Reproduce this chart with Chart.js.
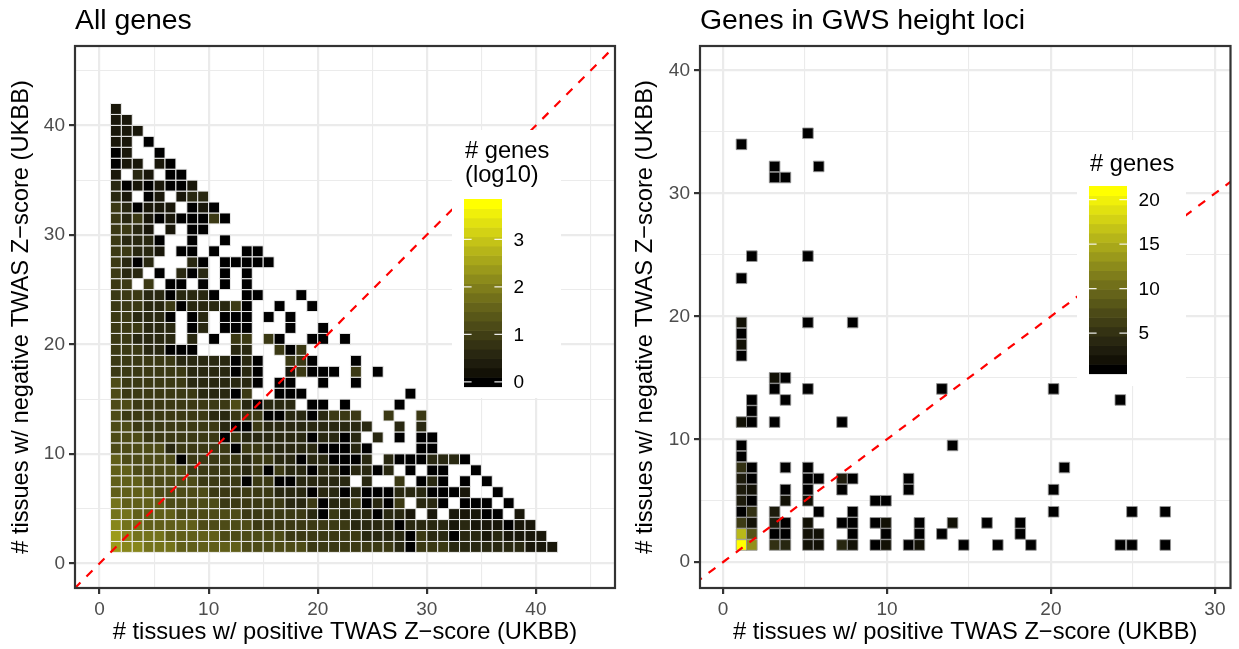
<!DOCTYPE html>
<html>
<head>
<meta charset="utf-8">
<script src="https://cdn.jsdelivr.net/npm/chart.js@4.4.0/dist/chart.umd.min.js"></script>
<style>
  html, body { margin: 0; padding: 0; background: #fff; }
  #wrap { position: relative; width: 1239px; height: 649px; }
  canvas { position: absolute; top: 0; }
</style>
</head>
<body>
<div id="wrap">
  <canvas id="allGenes" width="620" height="649" style="left:0"></canvas>
  <canvas id="gwsGenes" width="619" height="649" style="left:620px"></canvas>
</div>
<script>
const FONT = "'Liberation Sans', Arial, sans-serif";

// ---- left panel: all genes ----
// one string per "# negative tissues" (1..41), one char per "# positive tissues" (1..)
// digit d means log10(# genes) ~ d * 0.3, '.' means no gene in that cell
const negRows = [
  "87766655555544444433333333203332222222111",
  "8766655555444444333333322220322022121111",
  "766555554444433333333322220222212111011",
  "6655554444443333332032220221.1.11100.1",
  "655554444433333322302230203.220.000.0",
  "555544444333333222022020002220001..0",
  "5554444433330330022222.2..3.020.0.0",
  "55444443333323032202202202.0.00..0",
  "544444033333233220220002.20002220",
  "444442333330332222200020....00..",
  "44433333330322222202202.2.0.00.",
  "443333333320032222222222..2.2.",
  "43333333322333002202333..3..3",
  "44333333333420222.00.0....0.",
  "4333333322203..000.........0",
  "43333332222220.00..0..0...",
  "33333332222020..13000.3.0",
  "33333322222020..330...0.",
  "33322000...22..303.....",
  "332222.2.0.33.30..00.0",
  "333222.02.000...0..0.",
  "332220.02.000.0.0...",
  "3332230222230..0..0",
  "3332202220..00...0",
  "33.3.00.0.0.0....",
  "322.0.202.0.0...",
  "3202...20.00000",
  "33221.00.0..00",
  "32220..0..0..",
  "3321.1.00...",
  "32310100030",
  "320111.010",
  "21.01.122",
  "20101001",
  "1.21.00",
  "011.10",
  "01..0",
  "11.0",
  "111",
  "11",
  "1"
];
const log10PerDigit = 0.3;
const allRange = [0, 3.75];
const allBreaks = [0, 1, 2, 3];
const allXTicks = [0, 5, 10, 15, 20, 25, 30, 35, 40, 45];
const allYTicks = [0, 5, 10, 15, 20, 25, 30, 35, 40, 45];

// ---- right panel: genes in GWS height loci ----
const gwsPos = [
  5.18, 1.13, 3.15, 5.84, 3.15, 3.81, 1.76, 5.18, 1.13,
  1.13, 5.18, 7.91, 1.13, 1.13, 1.13, 3.15, 3.81,
  3.15, 5.18, 13.35, 20.16, 1.76, 3.81, 24.23, 1.76,
  1.13, 1.76, 3.15, 7.26, 1.13, 14.0, 1.13,
  1.13, 1.76, 3.81, 5.18, 20.82,
  1.13, 1.76, 5.18, 5.84, 7.26, 7.91, 11.32,
  1.13, 1.76, 3.81, 5.18, 7.26, 11.32, 20.16,
  1.13, 1.76, 3.81, 5.18, 9.29, 9.94,
  1.13, 1.76, 3.15, 5.84, 7.91, 20.16, 24.94, 26.97,
  1.13, 1.76, 3.15, 3.81, 5.18, 7.26, 7.91, 9.29, 9.94, 11.98, 14.0, 16.1, 18.13,
  1.13, 1.76, 3.15, 3.81, 5.18, 5.84, 7.91, 9.94, 11.98, 13.35, 18.13,
  1.13, 1.76, 3.15, 3.81, 5.18, 5.84, 7.26, 7.91, 9.29, 9.94, 11.32, 11.98, 14.68, 16.76, 18.78, 24.23, 24.94, 26.97
];
const gwsNeg = [
  34.9, 34.0, 32.2, 32.2, 31.3, 31.3, 24.9, 24.9, 23.1,
  19.5, 19.5, 19.5, 18.6, 17.7, 16.8, 15.0, 15.0,
  14.1, 14.1, 14.1, 14.1, 13.2, 13.2, 13.2, 12.3,
  11.4, 11.4, 11.4, 11.4, 9.5, 9.5, 8.6,
  7.7, 7.7, 7.7, 7.7, 7.7,
  6.8, 6.8, 6.8, 6.8, 6.8, 6.8, 6.8,
  5.9, 5.9, 5.9, 5.9, 5.9, 5.9, 5.9,
  5.0, 5.0, 5.0, 5.0, 5.0, 5.0,
  4.1, 4.1, 4.1, 4.1, 4.1, 4.1, 4.1, 4.1,
  3.2, 3.2, 3.2, 3.2, 3.2, 3.2, 3.2, 3.2, 3.2, 3.2, 3.2, 3.2, 3.2,
  2.3, 2.3, 2.3, 2.3, 2.3, 2.3, 2.3, 2.3, 2.3, 2.3, 2.3,
  1.4, 1.4, 1.4, 1.4, 1.4, 1.4, 1.4, 1.4, 1.4, 1.4, 1.4, 1.4, 1.4, 1.4, 1.4, 1.4, 1.4, 1.4
];
const gwsGenes = [
  1, 1, 1, 1, 1, 1, 1, 1, 1,
  2, 1, 1, 1, 2, 1, 2, 1,
  1, 1, 1, 1, 1, 1, 1, 1,
  2, 1, 1, 1, 1, 1, 1,
  5, 1, 1, 1, 1,
  3, 1, 1, 1, 3, 1, 1,
  3, 2, 1, 1, 1, 1, 1,
  3, 1, 2, 2, 1, 1,
  1, 5, 3, 1, 1, 1, 1, 1,
  6, 2, 3, 1, 2, 1, 1, 1, 2, 1, 2, 1, 1,
  16, 8, 1, 1, 2, 2, 1, 1, 1, 1, 1,
  21, 13, 5, 4, 2, 2, 4, 2, 1, 2, 1, 2, 1, 1, 1, 1, 1, 1
];
const gwsRange = [1, 21];
const gwsBreaks = [5, 10, 15, 20];
const gwsXTicks = [0, 5, 10, 15, 20, 25, 30];
const gwsYTicks = [0, 5, 10, 15, 20, 25, 30, 35, 40];

const diagonal = [-10, 60];

// black -> yellow ramp, interpolated in CIELAB like ggplot
function labToRgb(L, a, b) {
  let fy = (L + 16) / 116, fx = a / 500 + fy, fz = fy - b / 200;
  const inv = t => (t * t * t > 0.008856 ? t * t * t : (t - 16 / 116) / 7.787);
  const X = 0.95047 * inv(fx), Y = inv(fy), Z = 1.08883 * inv(fz);
  const r = X * 3.2406 - Y * 1.5372 - Z * 0.4986;
  const g = -X * 0.9689 + Y * 1.8758 + Z * 0.0415;
  const bl = X * 0.0557 - Y * 0.2040 + Z * 1.0570;
  const gam = c => {
    c = c > 0.0031308 ? 1.055 * Math.pow(c, 1 / 2.4) - 0.055 : 12.92 * c;
    return Math.round(255 * Math.min(1, Math.max(0, c)));
  };
  return 'rgb(' + gam(r) + ',' + gam(g) + ',' + gam(bl) + ')';
}
function ramp(t) {
  t = Math.min(1, Math.max(0, t));
  return labToRgb(97.14 * t, -21.55 * t, 94.48 * t);
}

const allTiles = [];
negRows.forEach((row, r) => {
  row.split('').forEach((ch, c) => {
    if (ch !== '.') allTiles.push({ x: c + 1.5, y: r + 1.5, v: Number(ch) * log10PerDigit });
  });
});
const gwsPoints = gwsPos.map((x, k) => ({ x: x, y: gwsNeg[k], v: gwsGenes[k] }));

function cellRadius(chart) {
  const s = chart.scales.x;
  return Math.abs(s.getPixelForValue(1) - s.getPixelForValue(0)) * Math.SQRT1_2;
}

function axis(min, max, tickVals, size, title, titlePad, isX) {
  return {
    type: 'linear', min: min, max: max,
    afterBuildTicks: s => { s.ticks = tickVals.map(v => ({ value: v })); },
    afterFit: s => { if (isX) s.height = size; else s.width = size; },
    grid: {
      color: '#ebebeb',
      lineWidth: c => (c.tick && c.tick.value % 10 === 0 ? 2.2 : 1.1),
      tickColor: c => (c.tick && c.tick.value % 10 === 0 ? '#333333' : 'rgba(0,0,0,0)'),
      tickWidth: 2.2,
      tickLength: 6
    },
    border: { display: false },
    ticks: {
      autoSkip: false, maxRotation: 0, padding: 4, color: '#4d4d4d',
      font: { family: FONT, size: 19 },
      callback: v => (v % 10 === 0 ? String(v) : '')
    },
    title: {
      display: true, text: title, color: '#000000',
      font: { family: FONT, size: 23.7 },
      padding: isX ? { top: 0, bottom: titlePad } : { top: titlePad, bottom: 0 }
    }
  };
}

const decor = {
  id: 'decor',
  afterDatasetsDraw(chart, args, opts) {
    const { ctx, chartArea: a } = chart;
    ctx.save();
    ctx.strokeStyle = '#333333';
    ctx.lineWidth = 2.2;
    ctx.strokeRect(a.left, a.top, a.right - a.left, a.bottom - a.top);
    ctx.restore();
  },
  afterDraw(chart, args, opts) {
    const { ctx, chartArea: a } = chart;
    const lg = opts.legend;
    ctx.save();
    ctx.fillStyle = '#000000';
    ctx.font = '28.4px ' + FONT;
    ctx.textBaseline = 'alphabetic';
    ctx.fillText(opts.title, a.left, 29);

    ctx.fillStyle = '#ffffff';
    ctx.fillRect(lg.box[0], lg.box[1], lg.box[2], lg.box[3]);
    ctx.fillStyle = '#000000';
    ctx.font = '23.7px ' + FONT;
    lg.title.forEach((t, k) => ctx.fillText(t, lg.x + 1, lg.titleY + k * 24));

    const nbin = 20, binH = lg.h / nbin, bottom = lg.y + lg.h;
    const lo = lg.range[0], hi = lg.range[1];
    for (let k = 0; k < nbin; k++) {
      ctx.fillStyle = ramp(k / (nbin - 1));
      ctx.fillRect(lg.x, bottom - (k + 1) * binH, lg.w, binH + 0.6);
    }
    ctx.font = '19px ' + FONT;
    ctx.textBaseline = 'middle';
    lg.breaks.forEach(b => {
      const y = bottom - binH / 2 - (b - lo) / (hi - lo) * (lg.h - binH);
      ctx.strokeStyle = 'rgba(255,255,255,0.9)';
      ctx.lineWidth = 1.2;
      ctx.beginPath();
      ctx.moveTo(lg.x, y); ctx.lineTo(lg.x + lg.w / 5, y);
      ctx.moveTo(lg.x + lg.w, y); ctx.lineTo(lg.x + lg.w * 4 / 5, y);
      ctx.stroke();
      ctx.fillStyle = '#000000';
      ctx.fillText(String(b), lg.x + lg.w + 11.6, y + 1);
    });
    ctx.restore();
  }
};

function diagonalSet() {
  return {
    data: diagonal.map(v => ({ x: v, y: v })),
    showLine: true, borderColor: '#ff0000', borderWidth: 2.2, borderDash: [8.5, 8.5],
    pointRadius: 0, clip: 0, order: 1
  };
}

new Chart(document.getElementById('allGenes'), {
  type: 'scatter',
  data: {
    datasets: [
      {
        data: allTiles, pointStyle: 'rect', order: 2,
        pointRadius: c => cellRadius(c.chart), pointHoverRadius: c => cellRadius(c.chart),
        backgroundColor: c => (c.raw ? ramp((c.raw.v - allRange[0]) / (allRange[1] - allRange[0])) : '#000'),
        borderColor: 'rgba(240,240,240,0.95)', borderWidth: 1
      },
      diagonalSet()
    ]
  },
  options: {
    responsive: false, animation: false, devicePixelRatio: 1, events: [],
    layout: { padding: { left: 0, top: 46, right: 5, bottom: 0 } },
    plugins: {
      legend: { display: false }, tooltip: { enabled: false },
      decor: {
        title: 'All genes',
        legend: {
          box: [452, 130, 109, 268], x: 464, y: 199, w: 38, h: 187.5,
          title: ['# genes', '(log10)'], titleY: 158, range: allRange, breaks: allBreaks
        }
      }
    },
    scales: {
      x: axis(-2.25, 47.25, allXTicks, 61, '# tissues w/ positive TWAS Z\u2212score (UKBB)', 2, true),
      y: axis(-2.25, 47.25, allYTicks, 75, '# tissues w/ negative TWAS Z\u2212score (UKBB)', 7, false)
    }
  },
  plugins: [decor]
});

new Chart(document.getElementById('gwsGenes'), {
  type: 'scatter',
  data: {
    datasets: [
      {
        data: gwsPoints, pointStyle: 'rect', order: 2,
        pointRadius: 7.5, pointHoverRadius: 7.5,
        backgroundColor: c => (c.raw ? ramp((c.raw.v - gwsRange[0]) / (gwsRange[1] - gwsRange[0])) : '#000'),
        borderColor: 'rgba(150,150,150,0.85)', borderWidth: 1
      },
      diagonalSet()
    ]
  },
  options: {
    responsive: false, animation: false, devicePixelRatio: 1, events: [],
    layout: { padding: { left: 0, top: 46, right: 7, bottom: 0 } },
    plugins: {
      legend: { display: false }, tooltip: { enabled: false },
      decor: {
        title: 'Genes in GWS height loci',
        legend: {
          box: [457, 140, 109, 246], x: 469, y: 186, w: 38, h: 187.5,
          title: ['# genes'], titleY: 171, range: gwsRange, breaks: gwsBreaks
        }
      }
    },
    scales: {
      x: axis(-1.4, 30.95, gwsXTicks, 61, '# tissues w/ positive TWAS Z\u2212score (UKBB)', 2, true),
      y: axis(-2.1, 42.0, gwsYTicks, 80, '# tissues w/ negative TWAS Z\u2212score (UKBB)', 11, false)
    }
  },
  plugins: [decor]
});
</script>
</body>
</html>
